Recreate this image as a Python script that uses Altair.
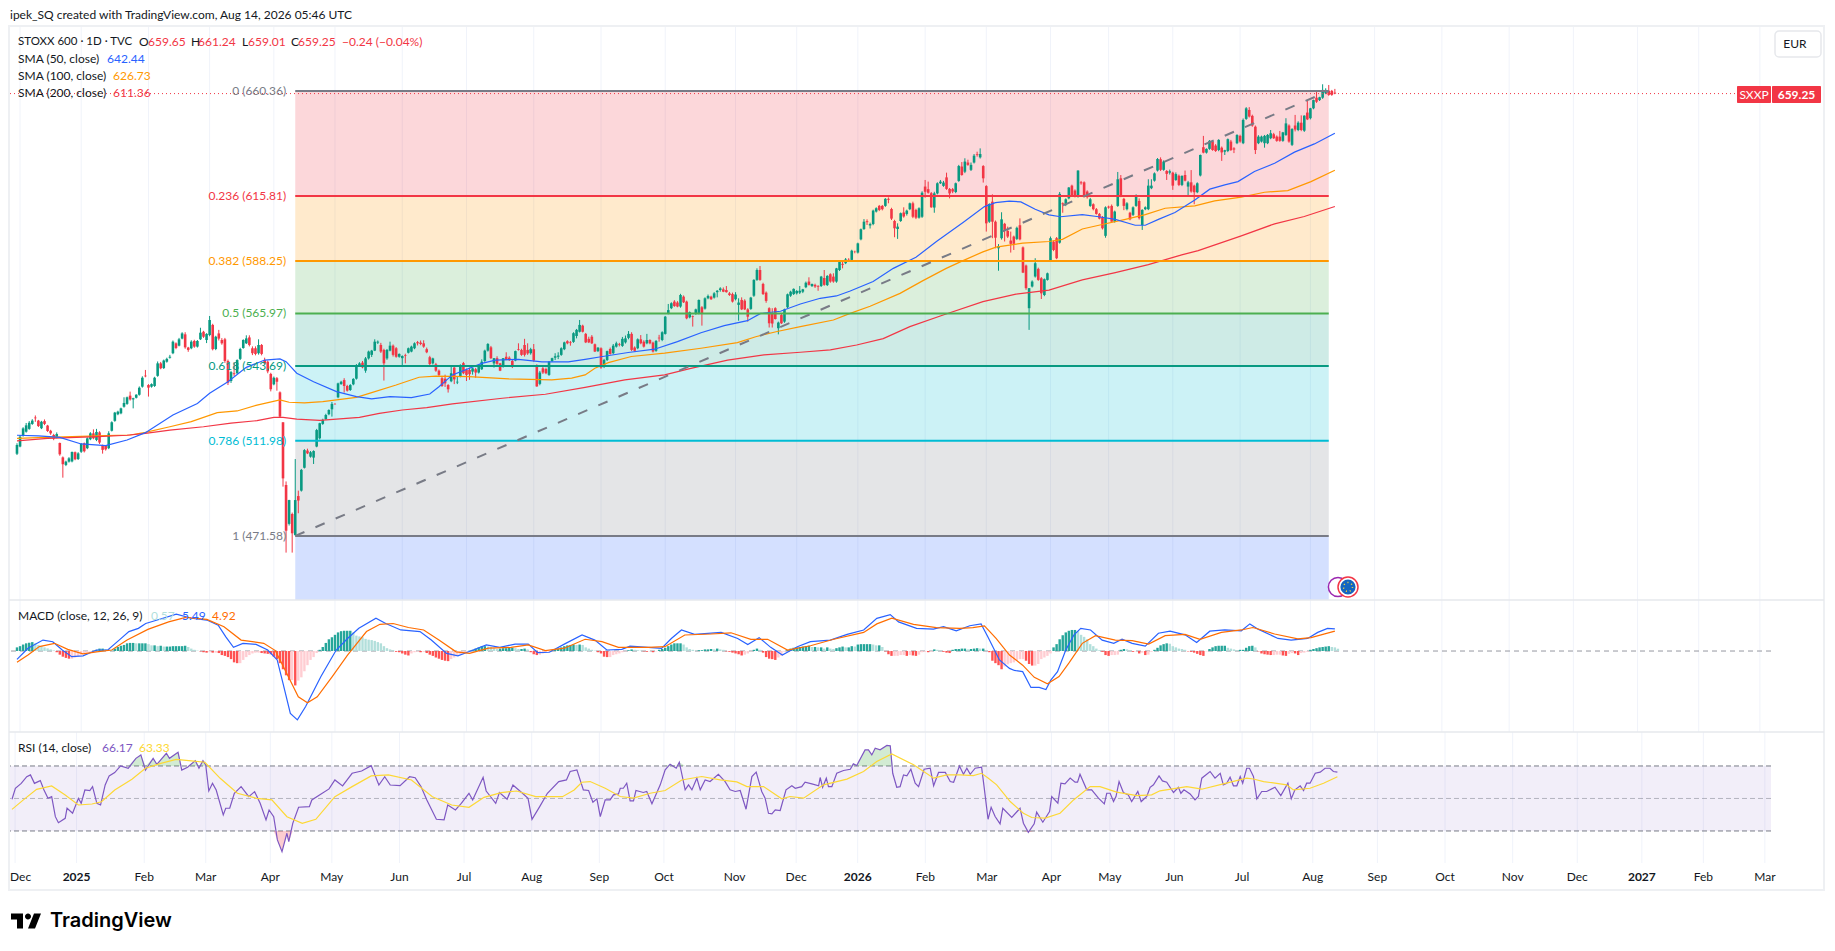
import altair as alt
import pandas as pd

FONT = "Lato"
UP, DOWN = "#089981", "#F23645"
INK = "#131722"
GRID = "#f0f3fa"

# ---- candles (open, high, low, close), one small list per month
bars_2024_12 = [(506.4,510.9,505.9,510.2),(509.5,514.4,509.2,513.7),(514,517.7,513.7,517.2),(515.8,519.5,515.4,518.5),(517,520.3,516.6,519.6),(519.1,521.1,518.7,520.5),(521.8,522.7,520,521.5),(520.5,520.8,517.8,518.2),(517.3,520.4,516.9,520),(520.3,521,518.6,519.1),(518.4,518.7,515.7,516.1),(516.2,516.6,514.5,515.1),(514.4,514.9,512.2,512.9),(513.4,515.5,513,514.8),(511,511.2,505.6,506.2),(504.9,505.3,496.3,502),(501.7,503.5,501.2,503.1),(503.1,505,502.7,504.5),(503.2,507.4,502.8,507.2),(507.1,507.4,503.7,504.1),(504.2,507.1,503.8,506.6)]
bars_2025_01 = [(507.3,511,506.8,510.6),(510.9,511.2,507,507.5),(508.8,513.4,508.4,513),(512.6,515.6,512.2,515.1),(515.1,516.8,512.6,513),(512.3,517,511.8,515.7),(515.5,516,510.6,511.2),(509.9,510.3,506.5,508.1),(509.9,510.1,507.8,508.3),(508.8,516,508.4,515.1),(516.2,520.2,515.9,519.8),(520.4,524.2,520,523.9),(523.2,524.7,522.8,524.3),(523.6,526,523.2,525.7),(526.4,530.4,526,528),(527.6,530.7,527.2,530.4),(531.1,532.8,529,529.5),(529.5,530.2,525.7,530),(530.2,531.7,529.9,531.5),(531.5,535,531.1,534.5),(534.9,539.3,534.5,538.7),(539.6,542,538.9,539.3)]
bars_2025_02 = [(535.6,536,530.7,534.5),(534.9,536.3,534.5,536),(535.2,539.1,534.8,538.7),(539.5,545.6,539.1,544.8),(544.8,545.4,542.3,542.7),(542.8,546.4,542.4,546),(545.5,547.2,545.1,546.7),(547.2,548.4,546.8,547.6),(549.1,554.5,548.7,554),(553.3,553.7,550.8,551.3),(552.3,555.6,552,555),(555.3,558,555,557.5),(557.1,558,551,551.6),(551.5,551.8,549.7,550.5),(551.2,554.6,550.8,554),(554.3,554.8,551.4,551.9),(551.9,554.7,551.5,554.3),(555,559.9,554.7,557.8),(558.2,558.6,555.6,556.1),(554.7,557.6,553.4,557.3)]
bars_2025_03 = [(556.8,564.9,556.3,563.2),(561.1,561.6,550.3,550.8),(550.9,556.5,550.4,556.1),(557.5,559,554.5,555.3),(554.7,555.5,552.7,553.3),(555,555.6,545,545.8),(545.8,546.4,535.6,536.6),(537.3,541.6,536.5,541.1),(540.6,545.2,539.4,540.2),(540.6,546.5,540.2,546.2),(546.7,551.4,546.2,550.9),(551.3,555,551,554.7),(553.3,556.7,553,555.4),(555.8,556.7,552,552.6),(551.2,552,548.3,549.1),(551.2,552,548.2,548.8),(549.1,555,548.5,552.6),(552.6,553,548.2,548.8),(546.2,547.2,544.2,544.8),(545.5,546,540.6,541.4),(540.3,540.8,532.9,533.8)]
bars_2025_04 = [(535.9,539.2,535.5,538.7),(538.5,539,533.2,537),(532.5,532.9,521.8,522.2),(519.8,519.8,492.5,496),(493.2,494.7,464.5,473.8),(476.7,486.9,476,486.8),(480.9,481.5,464.5,472.7),(472,504.2,471.6,486.8),(488.5,490.8,481.2,486.6),(490.8,500,490.4,499.6),(500.5,508.4,500.2,508),(507.8,508.6,506.3,506.6),(505.2,507.6,504.8,507.1),(504.8,507.9,502.1,507.6),(509.5,517,509.2,516.5),(513,519.6,512.5,519.4),(519.1,521.3,518.7,520.8),(521.2,523.4,520.8,522.9),(523.2,525.3,522.8,525),(525.3,528.4,522.2,527.6)]
bars_2025_05 = [(527.6,527.9,527.2,527.5),(530.4,536.6,530,536.3),(536,537.4,535.7,537),(537.7,538.5,532.4,535.2),(535.2,535.7,532.8,533.2),(533.5,536,533.1,535.6),(535.9,538.5,535.5,538.2),(538.3,544.5,537.9,544.1),(543.7,545.3,543.3,544.8),(545.1,545.8,542.7,543.1),(541.7,547.5,540.8,546.9),(546.9,550.2,546.4,549.8),(548.4,550.5,547.5,550.2),(550.2,555,550,554),(553.6,554.5,553,554),(552.6,553.5,549.2,549.8),(550.5,551,537.5,544.8),(546.9,550.9,546.3,550.5),(550.2,554,549.9,552.3),(552.3,552.8,547.7,548.4),(551.2,551.7,547.2,547.6),(547.6,549,547.2,548.8)]
bars_2025_06 = [(547,548.2,544.1,547.9),(548.2,548.9,544.8,547.9),(549.3,551.5,549,551.2),(549.8,552.3,549.5,551.9),(551.2,553.7,550.8,553.3),(553.8,554.3,552.4,553.3),(553.6,554.5,552.5,553),(553.3,554.6,551.4,551.9),(550.8,551.5,549.1,549.5),(547.4,548,544,544.5),(544.8,547.2,544.3,546.9),(544.4,545,541.2,541.7),(541.7,542.2,539.3,539.9),(538.5,539,534.8,535.2),(538.3,540,534.8,536.3),(535.6,536,532.4,533.8),(537.2,543.7,536.8,540.6),(543,543.5,536,538),(536.7,539,536,537),(539.2,544.4,538.9,544.1),(544.9,545.4,540.2,540.6)]
bars_2025_07 = [(542,542.6,537.3,539.9),(542,543,537.8,540.2),(541.3,543,540,542.7),(542.3,542.9,538.7,540.9),(540.9,544,540.5,543.7),(542.3,546.5,542,545.5),(545.8,550.6,545.4,550.2),(550.2,553.4,549.8,553),(551.6,552.2,546.6,547),(544.8,547,543,547),(547,547.8,544.2,544.6),(544.8,545,541.5,541.7),(543.4,547,543,547),(547.6,549.5,546.2,546.2),(547.2,547.8,545.8,546.2),(545.8,546.4,542.8,543.4),(546,550.2,545.7,550),(550.9,553.3,550.2,550.6),(550.5,551,548,548.4),(552.6,555.2,547.7,548.4),(550.5,553.3,548.4,549),(549.1,551.4,548.5,550.8)]
bars_2025_08 = [(550.8,553,545.5,546),(543.8,544.4,534.9,535),(536.1,541.6,535.5,540.9),(542.7,543.7,540.3,540.9),(542.4,543,540.2,540.6),(539.9,545.8,539.5,545.5),(545.8,547.2,545.4,547),(547.2,549.1,546.2,547.8),(547.6,549.5,546.6,548.1),(548.4,551.6,548,551.2),(550.8,554,550.4,553.7),(554.2,554.6,552.9,553.3),(553.7,554.3,552.3,553.4),(553.9,558,553.5,557.6),(556.4,559.4,555.4,559),(558.2,563.2,557.9,561.1),(560.8,561.2,557.9,558.2),(557.3,557.7,553.4,553.7),(555.2,556.1,553.4,553.7),(556.1,556.8,553,553.3),(552.9,553.2,549.6,549.8),(550,551.6,549.6,551.5)]
bars_2025_09 = [(551.2,551.6,542.5,543),(543.4,546.7,542.8,546.2),(546.2,550.2,545.8,550),(550.9,551.5,548.5,548.8),(549.1,553,548.7,552.3),(551.9,554,551.5,553.3),(553,553.5,552,552.7),(552.2,556,551.8,555.2),(553.7,556.6,553.2,555.4),(555.6,558.5,555,557.3),(557.3,558,550,550.5),(551.5,552,549.8,550.1),(551.2,555.4,550.8,555),(555,556.8,552.9,553.3),(554,554.6,551.5,551.9),(553.3,557.3,552.9,554.7),(554.7,555,552.9,553.3),(553.6,554,549.4,549.8),(550.1,554.7,549.7,554.3),(555.7,556.9,554,555.4),(554.7,558.4,554.2,558)]
bars_2025_10 = [(557.3,564.9,557,564.6),(566,570,565.6,567.4),(568.2,570.7,567.8,570.3),(571,571.6,568.8,569.1),(570.6,571.2,568.6,568.9),(568.9,574.3,568.4,573.8),(573.1,573.6,570.4,570.7),(571,571.4,563.5,563.9),(564.3,566.8,563.9,566.5),(564.9,565.1,560.4,564.6),(565.8,568,565.4,567.7),(566,571.9,565.6,571.7),(568.6,569.1,560.8,565.8),(568,572.8,567.6,572.4),(572.4,574,572,573.4),(573.1,573.5,571.7,572),(572.7,575,572.3,574.5),(575,575.9,572.8,575.6),(575.9,577.1,575.2,576.6),(576.2,577,575,575.2),(575.9,577.6,574.8,575),(574.5,575.1,573.4,573.8),(574.2,574.8,570.6,571)]
bars_2025_11 = [(572,575,571.5,574),(569.6,572.4,562.9,570.6),(571.7,572.8,567.4,567.7),(571.4,572,567.4,567.7),(567.7,568.2,562.5,564.6),(567.9,573,567.5,572.7),(573.5,580.5,573,580.2),(580.2,585.1,579.8,584.4),(584.4,586.1,579.8,580.2),(578.5,579,573.8,574.2),(574.8,575.3,570.5,571.3),(568.2,568.6,560,561.8),(566,568.2,560,561.7),(568.2,568.6,563.4,563.6),(559.7,562.5,557.1,562.1),(565.3,565.8,561.5,561.8),(562.5,568,562,567.7),(568.6,574.4,568.2,574.1),(573.5,575.6,573,575.2),(574.2,576.6,573.8,576.4)]
bars_2025_12 = [(574.5,575.9,574,575.5),(574.8,577.6,574.2,575.6),(575.2,576.4,574.6,576.2),(577.1,579.5,576.7,579),(579.5,581.3,577.8,578.1),(577.6,578.6,577.2,578.5),(578.1,578.6,576.8,577.4),(577.6,578,575.6,577.3),(577.6,581.9,577.2,581.6),(581,584.4,577.7,578.1),(578,582.2,577.6,581.9),(582.6,583,579,579.5),(581.6,583,579,579.5),(579.5,585.3,579,585.1),(584.4,588.5,584,587.9),(587,588,585.1,586.6),(587.3,589.5,586.9,588.9),(589,589.4,588.4,588.9),(588.7,593,588.3,592.6),(592.2,592.6,591.5,592.1)]
bars_2026_01 = [(591.8,596,591.4,595.7),(597.4,602,597,601.7),(601.8,606,601.4,604.9),(605.1,605.9,603.5,604.7),(603.3,604.5,602,603.9),(603.9,610,603.4,609.6),(609.2,611,608.8,610.6),(611.6,612,609.4,609.9),(611.6,612,609.7,610.2),(611.6,614.9,611.2,614.6),(614.6,615.2,612.7,614.2),(610.3,610.8,605.6,606.2),(605.2,605.7,598.3,602.1),(601.8,604.2,597.6,602.8),(605.2,608.8,604.8,608.5),(608.8,611,606.6,607.1),(608.2,610,607.5,609.6),(610.2,613,609.8,612.7),(612.7,613.4,606.4,607),(609.9,610.4,606,606.6),(606.6,611,606.2,610.6),(607,617.8,606.5,617.2)]
bars_2026_02 = [(619.8,622.6,615.1,617.6),(618.7,621.9,616.8,617.2),(617,617.5,610.8,611),(610.9,617.6,608.7,616.9),(616.9,621.6,616.5,621.2),(621.2,622.6,620.9,621.9),(620.1,622.2,619.7,621.5),(623.7,625.7,618.4,618.8),(618.8,619.2,614.8,616.9),(618.7,619.2,617,617.7),(617.5,621.5,617,621.2),(622.2,629,621.8,628.5),(628.3,630.2,624.4,624.7),(626.1,631.8,625.5,630.4),(630,631.2,628.6,629),(626.9,630,626.4,629),(630,633.6,629.6,632.9),(633.6,634.6,632.5,633.3),(632.2,636,631.7,633.6),(628.5,628.9,621.5,623.3)]
bars_2026_03 = [(620,620.4,600.7,604.2),(604.9,612.7,604.4,612.4),(613.4,616.5,597.9,604.9),(604.9,605.4,593.6,598.1),(593.6,595.4,584.1,594.6),(597.9,608.9,597.3,605.9),(604,604.4,596.5,601.4),(601,602.8,598,598.6),(596.9,600.7,591.8,595.5),(598.6,599,592.9,595.5),(597.6,602.8,597.1,602.3),(603.4,606.3,597,597.4),(594,594.4,583.1,583.3),(586.3,586.7,576,576.7),(568.2,576.7,559,576.7),(577.4,580,577,579.5),(581.6,589.4,581.2,587.3),(584.9,585.4,579.8,580.2),(580.9,581.4,572.1,574.5),(573.8,580.8,573.3,580.5),(580.2,583.3,579.9,583)]
bars_2026_04 = [(588.4,598.6,588,597.9),(596.4,596.9,592.4,592.9),(597.9,598.4,589,589.4),(596,617.5,595.6,616.7),(612.7,613.1,608.7,612.3),(612,614.8,611.5,614.4),(614.8,619.6,614.4,619.4),(620.2,620.6,616,616.2),(618.1,618.6,615.2,615.5),(615.5,626.7,615.1,626.6),(621.6,622.2,620.6,621.2),(621.6,622,615.2,615.5),(617.7,618.2,614.7,615.3),(611.6,615,611.2,614.4),(612.3,612.7,609.7,610.2),(610.2,610.7,607.9,608.2),(608.2,608.6,605.9,606.2),(606.8,607.3,601.6,602.1),(598.9,611.4,598.1,611)]
bars_2026_05 = [(611.3,611.7,610.4,610.9),(611.6,612.2,604.9,604.9),(604.9,609.6,604.5,609.2),(611.6,626,611.2,622.9),(623.3,624.7,615.3,615.8),(614.6,615,609.8,611.6),(610.2,613.2,609.7,612.7),(608.7,609.1,605.5,605.9),(607.8,611.4,607.3,611),(611.6,616.5,611.2,615.8),(613.7,614.8,605.8,606.4),(603.5,610.2,601.4,609.9),(610.2,611.4,609.8,611),(610.2,622.9,609.8,620.2),(619.1,622.9,618.7,620.2),(622.3,625.8,621.9,625.4),(626.6,631.9,626.2,631.5),(631.4,632.2,626.4,626.9),(626.9,630.9,626.5,630.4),(626.4,626.8,622.6,625.2),(625.7,627,624.9,626.3)]
bars_2026_06 = [(625.7,626.1,618.4,620.2),(622.6,625.8,622.2,625.1),(624.4,624.9,620,620.5),(620.5,624.6,620,624.3),(624.7,626.6,622,622.3),(619.8,622.2,616.2,621.6),(621.6,626.8,617.2,617.7),(620.2,620.6,612.3,617.4),(617.4,621.6,617,621.2),(624.5,633.4,624.1,633.2),(636.5,641.3,633.9,634.2),(634.2,636,633.8,635.8),(635.8,639.5,635.4,639.2),(638.9,639.5,635,635.3),(637.2,637.8,634.5,634.9),(635.3,639.9,634.8,639.6),(636.3,636.8,630.7,634.3),(634.6,635.4,633.2,635.2),(634.9,640.2,634.4,639.9),(638.9,639.6,634.9,635.3),(636,636.5,634,635.5),(638.2,642,637.8,641.7)]
bars_2026_07 = [(641.3,641.8,638.4,638.9),(638.2,648.7,637.8,648.1),(648.5,653.5,648.1,653),(652.3,653.5,649.1,649.5),(649.8,650.3,645.2,645.7),(645.2,645.7,633.6,635.3),(638.2,641.6,637.8,641),(638.9,641.4,638.5,641),(638.2,641.7,636.3,641.3),(638.2,642.1,637.8,641.7),(640.3,643.8,639.9,642.4),(642,642.6,640,640.3),(641,641.5,638.8,639.2),(641,643.4,638.8,639.2),(639.2,643,638.8,642.8),(641.7,648.8,641.3,646.6),(645.7,646.2,638.4,638.9),(637.5,644.6,637,644.2),(645.7,650.2,643.2,644),(643.8,647.5,643.3,646.9),(646.9,650,643.3,643.8),(643.5,650,643,649.9),(651.2,656.3,648,648.3)]
bars_2026_08 = [(648.8,653.2,648.3,653),(653,656.7,652.6,656.5),(657.5,660.1,655.3,655.8),(656.5,657.9,656.1,657.7),(657.5,663.2,657,660.8),(659.4,661.5,659,660.8),(660.5,662.9,658.3,658.7),(660.4,660.8,658.3,658.7),(659.65,661.24,659.01,659.25)]

# ---- moving averages: (bar number, value)
sma50 = [(0,514.3),(7,514),(14,513.4),(21,510.6),(29,509.9),(36,512.3),(42,515.4),(51,522.9),(59,527.8),(63,532.1),(69,537),(75,543.1),(81,546.2),(86,546.7),(88,545.5),(91.5,540.6),(97,537),(104.5,532.8),(111,530.7),(116,529.7),(122,530.7),(129,530.3),(135,531.8),(138,534.9),(142.4,539.9),(152,544.8),(156.5,546.2),(164,546.5),(171.7,545.4),(180.3,545.4),(185.8,546.5),(191,547.6),(199.9,549.4),(208.5,550.8),(216,554),(223.7,557.8),(231.3,560.8),(238.9,562.9),(243.2,566),(249.7,566.9),(256.2,570),(262.7,572.4),(268,573.4),(272.5,575.5),(280,579.5),(286.6,585.1),(294,589.8),(300.7,596.5),(309.4,604.6),(316.4,611.3),(320,613),(324.5,613.6),(328.3,613.3),(333,610.2),(337.5,607.8),(341.3,607),(348.4,607.9),(353.8,607),(359.2,605.9),(365.7,603.4),(369,603.4),(373.3,605.9),(378.7,608.8),(385.2,614.1),(390.1,618.7),(395,620.5),(399.3,621.9),(404.7,626.2),(411.3,629.7),(417.8,634.4),(424.3,637.9),(431,642.44)]
sma100 = [(0,513),(7,513.3),(18,513.7),(29,514.1),(37,514.4),(42,515.5),(50,517.9),(57,520.1),(65.5,523.9),(72,524.6),(78.5,527.1),(86,529.3),(89,528.3),(94,528),(100,528.6),(111,530.4),(116,532.4),(124,535.6),(131.5,538.9),(137,539.4),(147.8,539.2),(160.8,538.2),(174.9,537.8),(181.4,538.5),(185.8,539.9),(189,542.7),(193.4,545.1),(200.9,547.7),(211.8,549.1),(223.7,551.2),(235.6,553.6),(241.6,556.1),(248.6,558.3),(256.2,560.4),(267,563.2),(272.5,566),(279,569),(288.8,574.5),(296.3,579.9),(303.9,585.1),(309.4,588.4),(315.9,592.1),(320.2,594.1),(328.9,595.8),(337.5,596.5),(341.9,597.4),(348.4,601.8),(354.9,603.7),(362.5,605.9),(369,607.9),(375.5,610.6),(385.2,611.6),(391.7,613.7),(400.4,615.3),(408,617.4),(415.6,618.1),(423.2,621.9),(431,626.73)]
sma200 = [(0,511.9),(10,513),(26.5,513.7),(36,514.3),(42,515.1),(50,516.5),(61,517.9),(70,519.4),(78.5,520.5),(84,521.9),(87,521.9),(91.5,521.1),(99,520.6),(104.5,521.1),(112,521.9),(118.5,523.6),(126,525),(134,526),(142.4,527.6),(158.7,530),(172.8,531.7),(185.8,534.6),(198.8,537.8),(211.8,539.9),(220.4,542.7),(232.4,546.2),(244.3,548.4),(256.2,549.5),(266,550.5),(274.6,552.6),(283.3,555.3),(292,560.4),(302.9,565.3),(315.9,571),(326.7,574.2),(337.5,575.9),(348.4,580.2),(359.2,583.3),(370,586.7),(380.9,590.8),(386.3,592.6),(400.4,598.9),(411.3,604),(421,607.1),(431,611.36)]

# ---- MACD
macd_line = [(0,-2.06),(3.6,.66),(8.5,2.71),(11.7,2.3),(14.8,.25),(17.9,-1.4),(21.6,-1.2),(26,.25),(29.7,.25),(33.4,2.7),(36.6,4.8),(39.7,5.6),(42.1,6.8),(45.9,7.65),(52.1,9.1),(57.1,8.1),(62.1,7.65),(65.8,6.4),(68.3,3.5),(70.8,.9),(73.9,1.9),(78.2,1.65),(82,.25),(85.1,-2.2),(87,-8),(89.4,-15.4),(91.7,-17),(94.4,-13.7),(99.4,-6.3),(104.4,.25),(108.1,3.1),(111.8,5.6),(117.4,8.1),(120.6,6.8),(125.5,5.2),(131.8,4.8),(135.5,2.7),(140.5,-.6),(144.2,-1.2),(149.2,.25),(153.5,1.5),(157.9,.9),(162.9,1.7),(167.2,1.7),(170.3,-.4),(174.1,-.3),(179,1.7),(184.8,3.95),(189,2.7),(192.9,.25),(197.8,.4),(200.5,1.2),(206.4,.9),(210.8,.65),(214,3.1),(217.3,5.2),(221.6,4.1),(230.3,4.6),(235.7,3.1),(239,1.6),(242.7,3.3),(246.5,.9),(250.3,-1),(255.2,1.07),(259.5,2.3),(266,2.7),(271.5,4.1),(276.9,5.2),(281.2,8.06),(285.6,9),(288.3,7.2),(294.2,5.6),(299.7,5.4),(303,6),(307.2,5),(311.6,6.25),(315.3,6.7),(317.5,3.5),(321.3,-2.2),(324.6,-4.3),(326.2,-4.8),(328.9,-5.1),(331.6,-9),(334.3,-9),(336.5,-9.5),(338.1,-7.2),(340.3,-5.1),(343,.25),(345.7,4),(347.9,5.6),(351.1,5.2),(354.9,2.7),(358.7,1.9),(361.4,2.9),(364.7,1.9),(369,1.2),(373.3,4.4),(377.1,4.9),(382,4),(385.8,2.1),(390.1,4.9),(395,5.2),(400.4,5),(403.2,6.7),(405.9,5.4),(412.4,3.1),(416.7,2.7),(422.1,3.1),(425.4,4.6),(428.6,5.6),(431,5.49)]
macd_signal = [(0,-2.8),(3.6,-1),(7.3,1.1),(12.3,1.9),(16.6,.4),(21.6,-.7),(26,-.2),(31,.25),(36,2.7),(42.8,5.35),(49.6,7.2),(55.2,8.3),(62.1,7.8),(67.7,6),(73.3,2.7),(80.7,1.9),(84.5,.1),(88.2,-5.5),(92,-11.3),(95,-12.8),(98.2,-11.3),(103.1,-6.3),(108.1,-1),(114.3,4.8),(118.7,6.6),(123,6.8),(128,5.8),(133,5.2),(138,2.7),(143.6,-.2),(148,-.6),(154.2,.7),(161.6,.9),(167.2,1.5),(172.8,.1),(179,.7),(185.8,2.9),(191.3,2.3),(196.7,.9),(206.4,.9),(211.9,1.07),(218.4,3.95),(227,4.2),(233.5,4.5),(240,2.9),(245.5,2.9),(252,.25),(259.5,1.3),(267.1,2.9),(276.9,4.6),(281.2,6.7),(286.1,8.1),(293.2,6.6),(300.7,5.8),(308.3,5.6),(312.6,5.8),(316.4,6.2),(320.2,3.1),(324.6,-1),(328.9,-3.5),(332.7,-6.5),(337,-8.1),(340.8,-6.3),(344,-3),(348.4,1.9),(352.7,3.8),(359.2,2.7),(364.7,2.55),(370.1,1.7),(375.5,3.8),(382,4.1),(386.9,2.9),(393.9,4.6),(400.4,5.2),(404.2,5.8),(411.3,4.2),(418.9,3),(423.2,3.3),(431,4.92)]
hist_2024_25 = [.9,1.2,1.6,1.9,2.05,2.2,1.9,1.5,1.2,.9,.65,.4,.15,-.3,-.9,-1.4,-1.7,-1.9,-1.9,-1.6,-1.3,-1,-.6,-.4,-.2,.05,.3,.6,.6,.5,.4,.3,.6,1,1.3,1.5,1.9,2,2,1.9,1.9,1.9,1.9,1.7,1.4,1.4,1.2,1.3,1.1,1.1,1.1,1.2,1.2,1.2,1.2,1.3,1,.6,.3,.1,-.1,-.3,-.4,-.3,-.4,-.4,-.5,-1,-1.2,-1.5,-2,-2.8,-3,-3,-2.2,-1.5,-1,-.6,-.4,-.4,-.5,-.6,-.7,-.8,-1.4,-2,-3,-4.5,-6,-7.2,-7.2,-8.5,-7.3,-6.5,-5,-3.5,-2.2,-1.5,-.5,.3,1,2,2.9,3.4,4,4.6,4.9,5,5,5,4.6,3.8,3.6,3.4,3,2.8,2.7,2.5,2.2,1.9,1.2,.7,.4,.2,-.2,-.3,-.6,-.9,-1.1,-.6,-.3,-.2,-.3,-.2,-.5,-.9,-1.2,-1.6,-1.9,-2.2,-2.4,-2.5,-2,-1.6,-1.1]
hist_2025_b = [-.8,-.5,-.2,.1,.3,.6,.9,1.2,1.2,1.1,1,.7,.5,.6,.7,.7,.8,.8,.7,.5,.5,.6,.4,-.3,-.8,-1,-.9,-.6,-.3,-.2,.1,.4,.6,.9,1.2,1.4,1.5,1.6,1.5,1.6,1.5,.9,.6,.3,.1,-.3,-.6,-1.4,-1.5,-1.5,-1,-.8,-.6,-.3,-.1,.2,.4,.3,.2,.1,-.1,-.2,-.1,-.3,-.1,.3,.5,.8,1.2,1.6,1.9,1.9,1.9,1.6,.9,.5,.3,.1,.2,.2,.4,.4,.5,.4,.6,.4,.3,-.1,-.2,-.4,-.6,-.8,-1.1,-.9,-.6,-.1,.3,.6,.3,-.4,-1.5,-1.9,-2,-2.2,-1.6,-1.2,-.2,.3,.6,.8,.9,1,1.1,1.2,1.3,1,1,.9,.9,.6,.9,.6,.5,.7,.9,1.1,.9,.9,1.2,1.1]
hist_2026 = [1.6,1.7,1.7,1.7,1.7,1.6,1.4,1.4,1,-.1,-.8,-1.2,-1.2,-1.2,-1,-1,-1.2,-1,-1.1,-1.2,-.9,-.3,-.2,-.3,-.2,.4,.3,.1,-.2,-.4,-.5,.3,.5,.5,.6,.6,.4,.5,.6,.7,.6,.6,.1,-.3,-2.4,-3,-3.5,-4.5,-3.8,-3.3,-3,-2.8,-2.4,-2,-2,-2.4,-3.2,-3.6,-3.6,-3.2,-2,-1.6,-1.2,-.6,.9,1.7,2.9,3.9,4.6,5,5.2,5.2,4.9,4,3.5,2.9,1.7,1.2,.6,.2,-.2,-1,-1.2,-1,-1,-.9,.3,.5,.4,.2,-.2,-.1,-.6,-.4,-1,-.9,-.2,.3,.8,1.4,1.7,1.9,1.8,1.2,.9,.6,.5,.3,-.1,-.2,-.4,-.7,-1,-1.2,-.1,.5,.9,1.2,1.3,1.3,1.3,.8,.6,.4,.2,.3,.3,.8,1.2,1.3,.9,-.1,-.6,-.8,-.9,-1,-1,-.9,-.9,-1.1,-1.2,-.7,-.5,-.6,-1,-.5,-.4,-.2,.3,.5,.7,.9,1,1.1,1.2,1,.9,.57]

# ---- RSI
rsi_a = [(0,49.5),(1.1,56.3),(3,59.3),(4.8,63.4),(6,64.5),(7.3,59.3),(9.2,61),(10.4,55.2),(11.7,50.1),(12.9,51.1),(14.1,38.8),(15.1,35.1),(17.3,37.8),(17.9,44),(19.7,40.9),(21.6,50.1),(22.5,47),(23.7,55.2),(25.3,54.8),(26.2,57.3),(27.6,47),(28.8,46),(30.3,58.3),(31.6,63.9),(33.4,65.9),(35.3,70),(37.8,68.6),(40.3,74.7),(41.9,76.8),(43.4,67.5),(45.9,74.7),(47.1,71),(50.2,77.8),(51.2,74.7),(54,78.4),(55.2,67.5),(57.1,69.2),(59.6,73.3),(60.8,68.6),(62.1,73.3),(63,70.6),(64,54.6),(65.2,59.3),(66.4,55.2),(68.7,39.9),(69.5,44),(70.8,44),(72.3,53.2),(74.5,57.3),(77,51.1),(78.9,54.2),(80.7,47),(82.6,36.8),(83.6,42.9),(85.1,38.8),(86.3,24.5),(87.8,17.3),(89.4,28.6),(90,23.4),(91.3,34.7),(93.2,44.6),(96.7,45),(97.5,49.1),(100,52.2),(103.1,55.9),(105,61.4),(107.5,57.7),(110.6,65.5),(113.7,66.9),(116.8,70.2),(119.3,58.3),(121.2,63.4),(123,58.3),(126.2,57.9),(129.3,63.4),(131.1,62.8),(133,57.3),(134.9,49.1),(138,37.2),(140.5,36.8),(141.7,46),(144.2,42.9),(146.1,47),(148.6,53.2),(149.8,49.1),(153.2,63),(154.2,54.6),(157.3,47),(158.5,53.6),(161,49.5),(162.9,58.3),(166,53.2),(167.8,50.1),(169.1,37.2),(171.6,45),(174.1,53.2),(177.8,60.4),(180.3,61.4)]
rsi_b = [(181.5,66.6),(183.7,67.6),(185.8,55.3),(187.5,54.9),(188.9,47.7),(190.2,49.8),(191.3,38.9),(192.9,49.1),(194.5,49.1),(195.6,52.2),(197.2,52.8),(197.8,56.3),(198.8,56.3),(199.9,59.4),(201,48.5),(202.1,48.5),(202.9,54.9),(205.3,53.7),(206.4,54.3),(208.1,46.7),(210.8,58.4),(212.4,67.6),(214,71.1),(216,68.6),(217,72.3),(218.9,55.3),(220,58.4),(221.1,55.3),(222.7,62.5),(223.8,55.3),(225.4,61.4),(227,60.4),(229.7,64.9),(231.9,60.4),(233.5,55.3),(235.2,54.3),(236.8,54.9),(238.7,43.4),(240.6,63.5),(242,66.2),(243.8,54.3),(244.9,50.2),(246,40.9),(247.1,40.5),(248.2,43),(249.8,42.6),(251.7,55.3),(253.6,57.8),(254.7,56.3),(256.8,57.3),(257.9,60),(260.1,59),(262.3,57.8),(262.8,62.9),(263.6,56.9),(264.8,62.5),(265.5,57.3),(266.6,57.3),(268.2,65.5),(270.4,67.2),(272.6,68),(273.6,71.3),(274.7,70.3),(277.4,79.9),(278.5,79.9),(279.6,76.8),(280.7,80.9),(282.3,79.9),(284.5,82.6),(285.6,82.4),(286.4,65.5),(287.7,56.9),(288.8,57.3),(289.9,64.5),(291,63.9),(292.3,68),(293.7,59.4),(294.8,57.3),(296.6,68),(298.6,68.6),(299.7,57.8),(301.3,66),(303.5,66),(305.1,60.4),(306.2,60),(308.1,70),(309.4,64.9),(310.5,68.6),(311.6,64.9)]
rsi_c = [(313.2,68.6),(315.3,69.2),(316.1,57.3),(317.4,37.2),(318.4,44.6),(319.7,38.9),(321.3,34.4),(322.2,44),(325.1,38.3),(327.8,44),(328.9,34.8),(330.5,29.2),(332.4,34.4),(333.2,41.6),(335.2,35.4),(337.4,42),(338.1,51.2),(340.1,47.1),(341.1,59.4),(342.4,59),(344.1,62.5),(345.7,60),(346.5,60),(347.3,64.9),(349.5,55.3),(351.1,55.3),(353.3,50.2),(355.2,46.7),(356,53.2),(357.1,53.2),(358.2,48.1),(359,51.2),(360,60.4),(361.4,53.7),(363,52.2),(364.1,48.1),(366.1,54.3),(367.2,48.1),(369,51.2),(370.1,56.9),(371.2,58.4),(373,63.9),(374.1,60.8),(375.5,60),(377.7,53.7),(379.3,56.9),(380.1,53.2),(381.1,55.3),(383.1,52.8),(384.7,49.1),(385.8,51.2),(386.9,62.5),(389.6,66.6),(391.2,62.5),(392.9,65.5),(393.9,58.4),(395,59.4),(396.1,63.1),(397.2,57.8),(398.3,57.8),(399.4,63.5),(400.2,59.4),(401.5,68.6),(402.4,68.6),(403.7,63.5),(404.8,49.8),(406.4,54.3),(408,54.3),(410.7,56.9),(412.6,51.8),(414.9,59.4),(416,49.8),(417.2,55.3),(418.9,57.8),(420,54.9),(421,59.4),(422.1,59.4),(423.8,65.5),(425.4,66.2),(427,68.6),(428.6,68.6),(429.7,66.6),(431,66.17)]
rsi_ma = [(0,43.3),(3.6,49),(8,55.6),(12.9,57.7),(17.3,52.2),(21.6,46),(26,46.6),(29.1,48),(33.4,55.2),(39,61.8),(43.4,68.6),(48.4,71.6),(53.4,74.1),(58.3,73.1),(62.7,72.3),(67.7,62.4),(73.3,53.2),(79.5,50.1),(84.5,49.1),(89.4,38.8),(94.4,34.7),(98.8,37.2),(105,51.1),(110.6,57.3),(116.8,63.9),(122.4,64.5),(129.9,61.4),(136.7,51.1),(143,46),(148.6,44.6),(153.5,50.7),(159.1,53.6),(164.1,54.6),(170.3,51.1),(179,51.1),(182.8,55.2),(185.3,60),(188,60.4),(192.9,56.3),(197.8,51.2),(202.1,50.2),(207.5,53.2),(212.4,54.9),(217.8,61.4),(224.3,63.5),(230.3,61.4),(235.7,60.2),(239,57.3),(244.4,57.3),(250.3,49.8),(253,51.2),(257.4,50.2),(263.9,58.4),(271.5,61.9),(276.9,66.6),(281.2,72.7),(286.1,77.4),(293.2,70.7),(299.7,62.5),(304,64.5),(308.3,64.5),(312.6,64.1),(315.3,65.5),(317.5,62.5),(320.2,58.4),(324.6,48.1),(328.9,40.9),(331.6,38.3),(336,37.9),(340.8,40.9),(345.2,49.1),(350.6,57.3),(353.8,57.3),(359.2,53.9),(365.8,51.8),(370.6,52.2),(373.3,54.7),(382,57.3),(386.9,55.7),(393.9,59),(401.5,62.5),(403.7,62),(407,60.4),(414.5,58.4),(416.7,55.3),(422.1,56.3),(426.5,59.4),(431,63.33)]

# ---- time axis
month_bars = [1,21,43,63,84,104,126,147,169,191,212,235,255,275,297,317,338,357,378,400,423,444,466,488,509,530,550,570]
month_names = ["Dec","2025","Feb","Mar","Apr","May","Jun","Jul","Aug","Sep","Oct","Nov","Dec","2026","Feb","Mar","Apr","May","Jun","Jul","Aug","Sep","Oct","Nov","Dec","2027","Feb","Mar"]

# ---- Fibonacci retracement
fib_levels = [0, 0.236, 0.382, 0.5, 0.618, 0.786, 1]
fib_prices = [660.36, 615.81, 588.25, 565.97, 543.69, 511.98, 471.58]
fib_colors = ["#787B86", "#F23645", "#FF9800", "#4CAF50", "#089981", "#00BCD4", "#787B86"]
fib_texts = ["0", "0.236", "0.382", "0.5", "0.618", "0.786", "1"]
band_colors = ["#F23645", "#FF9800", "#4CAF50", "#089981", "#00BCD4", "#787B86", "#2962FF"]
fib_start, fib_end = 91, 429
price_floor = 444.4
last_close = 659.25

# ---- assemble tables from the lists above
all_bars = (bars_2024_12 + bars_2025_01 + bars_2025_02 + bars_2025_03 + bars_2025_04 + bars_2025_05
            + bars_2025_06 + bars_2025_07 + bars_2025_08 + bars_2025_09 + bars_2025_10 + bars_2025_11
            + bars_2025_12 + bars_2026_01 + bars_2026_02 + bars_2026_03 + bars_2026_04 + bars_2026_05
            + bars_2026_06 + bars_2026_07 + bars_2026_08)
candles = pd.DataFrame(all_bars, columns=["o", "h", "l", "c"])
candles["i"] = range(len(candles))
candles["col"] = [UP if c >= o else DOWN for o, c in zip(candles.o, candles.c)]

def pairs(rows):
    return pd.DataFrame(rows, columns=["i", "v"])

hist_vals = hist_2024_25 + hist_2025_b + hist_2026
hist_rows = []
prev = 0
for n, h in enumerate(hist_vals):
    if h >= 0:
        col = "#26a69a" if h >= prev else "#b2dfdb"
    else:
        col = "#ff5252" if h < prev else "#ffcdd2"
    hist_rows.append({"i": n, "h": h, "z": 0, "col": col})
    prev = h
hist = pd.DataFrame(hist_rows)

rsi_all = rsi_a + rsi_b + rsi_c
rsi_df = pairs(rsi_all)
rsi_df["over"] = rsi_df.v.clip(lower=70)
rsi_df["under"] = rsi_df.v.clip(upper=30)
rsi_df["top"] = 70
rsi_df["bot"] = 30

months = pd.DataFrame({"i": month_bars, "name": month_names})
months["bold"] = months.name.str.isdigit()
first_month, later_months = months.iloc[:1], months.iloc[1:]

fib = pd.DataFrame({"lvl": fib_levels, "p": fib_prices, "col": fib_colors, "t": fib_texts})
fib["label"] = [f"{t} ({p:.2f})" for t, p in zip(fib_texts, fib_prices)]
fib["x1"] = fib_start
fib["x2"] = fib_end
bands = pd.DataFrame({
    "p1": fib_prices,
    "p2": fib_prices[1:] + [price_floor],
    "col": band_colors,
    "x1": fib_start,
    "x2": fib_end,
})
trend = pd.DataFrame({"i": [fib_start, fib_end], "v": [fib_prices[-1], fib_prices[0]]})
one = pd.DataFrame({"a": [0]})

# ---- panel geometry
W = 1761
FRAME_R = 1814
H_PRICE, H_MACD, H_RSI = 573, 132, 131
XS = alt.Scale(domain=[-0.65, 572.0], nice=False, zero=False)
YP = alt.Scale(domain=[price_floor, 687.5], nice=False, zero=False)
YM = alt.Scale(domain=[-20, 12.6], nice=False, zero=False)
YR = alt.Scale(domain=[10.3, 90.9], nice=False, zero=False)

def xq(f="i"):
    return alt.X(f"{f}:Q", scale=XS, axis=None, title=None)

def right_axis(vals, expr=None):
    kw = dict(values=vals, orient="right", domain=False, ticks=False, grid=True, gridColor=GRID,
              gridWidth=1, labelColor=INK, labelFont=FONT, labelFontSize=12, labelPadding=9,
              format=".2f", title=None)
    if expr:
        kw["labelExpr"] = expr
    return alt.Axis(**kw)

def label(text, x, y, color=INK, size=12, align="left", weight="normal", font=FONT):
    return alt.Chart(one).mark_text(text=text, align=align, baseline="middle", color=color,
                                    fontSize=size, font=font, fontWeight=weight).encode(
        x=alt.value(x), y=alt.value(y))

def vgrid():
    return alt.Chart(months).mark_rule(color=GRID, strokeWidth=1).encode(x=xq())

def line(df, scale, color, width=1.2):
    return alt.Chart(df).mark_line(color=color, strokeWidth=width).encode(
        x=xq(), y=alt.Y("v:Q", scale=scale, axis=None, title=None))

# ---- price pane
ypf = lambda f: alt.Y(f"{f}:Q", scale=YP, axis=None, title=None)
price_axis_layer = alt.Chart(pd.DataFrame({"v": [460]})).mark_rule(opacity=0).encode(
    y=alt.Y("v:Q", scale=YP, title=None,
            axis=right_axis(list(range(460, 700, 20)),
                            "datum.value > 640 ? '' : format(datum.value, '.2f')")))
band_layer = alt.Chart(bands).mark_rect(opacity=0.2).encode(
    x=xq("x1"), x2="x2:Q", y=ypf("p1"), y2="p2:Q", color=alt.Color("col:N", scale=None))
wicks = alt.Chart(candles).mark_rule(strokeWidth=1).encode(
    x=xq(), y=ypf("l"), y2="h:Q", color=alt.Color("col:N", scale=None))
bodies = alt.Chart(candles).mark_bar(size=2.6).encode(
    x=xq(), y=ypf("o"), y2="c:Q", color=alt.Color("col:N", scale=None))
fib_lines = alt.Chart(fib).mark_rule(strokeWidth=2).encode(
    x=xq("x1"), x2="x2:Q", y=ypf("p"), color=alt.Color("col:N", scale=None))
fib_labels = alt.Chart(fib).mark_text(align="right", baseline="middle", dx=-9, fontSize=12, font=FONT).encode(
    x=xq("x1"), y=ypf("p"), text="label:N", color=alt.Color("col:N", scale=None))
trend_line = alt.Chart(trend).mark_line(color="#787B86", strokeWidth=2, strokeDash=[10, 12]).encode(
    x=xq(), y=ypf("v"))
close_line = alt.Chart(pd.DataFrame({"v": [last_close]})).mark_rule(
    color="#F23645", strokeWidth=1, strokeDash=[1, 3]).encode(
    x=alt.value(0), x2=alt.value(1727), y=ypf("v"))

def tag(x1, x2, y1, y2):
    return alt.Chart(one).mark_rect(color="#F23645", cornerRadius=1).encode(
        x=alt.value(x1), x2=alt.value(x2), y=alt.value(y1), y2=alt.value(y2))

frame = alt.Chart(one).mark_rect(fillOpacity=0, stroke="#eef0f3", strokeWidth=2).encode(
    x=alt.value(-1), x2=alt.value(FRAME_R), y=alt.value(-1), y2=alt.value(863))
origin = alt.Chart(one).mark_rect(color="white").encode(
    x=alt.value(-2), x2=alt.value(0), y=alt.value(-19), y2=alt.value(-18))
eur_box = alt.Chart(one).mark_rect(fill="white", stroke="#e6e8ec", strokeWidth=1.5, cornerRadius=4).encode(
    x=alt.value(1765), x2=alt.value(1811), y=alt.value(4), y2=alt.value(30))

def dot(x, y, size, **kw):
    return alt.Chart(one).mark_point(size=size, opacity=1, **kw).encode(x=alt.value(x), y=alt.value(y))

logo_path = "M-3 -7.5H-15v6h6v9h6V-7.5Zm12 15h-7l6-15h7l-6 15Zm-7-9a3 3 0 1 0 0-6 3 3 0 0 0 0 6Z"

price = alt.layer(
    origin, price_axis_layer, vgrid(), band_layer, wicks, bodies,
    line(pairs(sma100), YP, "#FF9800"), line(pairs(sma200), YP, "#F23645"), line(pairs(sma50), YP, "#2962FF"),
    fib_lines, trend_line, close_line, fib_labels,
    label("ipek_SQ created with TradingView.com, Aug 14, 2026 05:46 UTC", 0, -12),
    label("STOXX 600 · 1D · TVC", 8, 15, size=11.5),
    label("O", 129, 15), label("659.65", 138, 15, DOWN),
    label("H", 181, 15), label("661.24", 188, 15, DOWN),
    label("L", 232, 15), label("659.01", 238, 15, DOWN),
    label("C", 281, 15), label("659.25", 288, 15, DOWN),
    label("−0.24 (−0.04%)", 332, 15, DOWN),
    label("SMA (50, close)", 8, 32), label("642.44", 97, 32, "#2962FF"),
    label("SMA (100, close)", 8, 49), label("626.73", 103, 49, "#FF9800"),
    label("SMA (200, close)", 8, 66), label("611.36", 103, 66, "#F23645"),
    tag(1727, 1761, 59, 76), tag(1762, 1811, 59, 76),
    label("SXXP", 1744, 67.5, "white", align="center"),
    label("659.25", 1786.5, 67.5, "white", align="center", weight="bold"),
    eur_box, label("EUR", 1785, 17, align="center"),
    dot(1328, 560, 370, shape="circle", filled=True, color="white", stroke="#9C27B0", strokeWidth=1.5),
    dot(1338, 560, 400, shape="circle", filled=True, color="white", stroke="#F23645", strokeWidth=1.5),
    dot(1338, 560, 230, shape="circle", filled=True, color="#1565C0"),
    dot(1338, 560, 80, shape="circle", filled=False, color="#FDD835", strokeWidth=1.5, strokeDash=[1, 3]),
    dot(16, 894, 4, shape=logo_path, filled=True, color="#000000"),
    label("TradingView", 40, 894, "#000000", size=20, weight=600, font="Inter"),
    frame,
).properties(width=W, height=H_PRICE)

# ---- MACD pane
macd_axis_layer = alt.Chart(pd.DataFrame({"v": [0]})).mark_rule(
    color="#9598a1", strokeWidth=1, strokeDash=[5, 4]).encode(
    y=alt.Y("v:Q", scale=YM, title=None, axis=right_axis([-10, 0, 10])))
sep_macd = alt.Chart(one).mark_rule(color="#e6e8ec", strokeWidth=1.5).encode(
    x=alt.value(-1), x2=alt.value(FRAME_R), y=alt.value(0))
hist_bars = alt.Chart(hist).mark_bar(size=2.4).encode(
    x=xq(), y=alt.Y("h:Q", scale=YM, axis=None, title=None), y2="z:Q", color=alt.Color("col:N", scale=None))
macd = alt.layer(
    vgrid(), macd_axis_layer, hist_bars,
    line(pairs(macd_line), YM, "#2962FF"), line(pairs(macd_signal), YM, "#FF6D00"),
    sep_macd,
    label("MACD (close, 12, 26, 9)", 8, 16),
    label("0.57", 141, 16, "#b2dfdb"), label("5.49", 172, 16, "#2962FF"), label("4.92", 202, 16, "#FF6D00"),
).properties(width=W, height=H_MACD)

# ---- RSI pane
yr = lambda f: alt.Y(f"{f}:Q", scale=YR, axis=None, title=None)
rsi_axis_layer = alt.Chart(pd.DataFrame({"v": [70, 30]})).mark_rule(
    color="#787B86", strokeWidth=1, strokeDash=[5, 3]).encode(
    y=alt.Y("v:Q", scale=YR, title=None, axis=right_axis([20, 40, 60, 80])))
mid_line = alt.Chart(pd.DataFrame({"v": [50]})).mark_rule(
    color="#787B86", opacity=0.5, strokeWidth=1, strokeDash=[5, 3]).encode(y=yr("v"))
rsi_band = alt.Chart(pd.DataFrame({"a": [70], "b": [30]})).mark_rect(color="#7E57C2", opacity=0.1).encode(
    x=alt.value(0), x2=alt.value(W), y=yr("a"), y2="b:Q")
over_area = alt.Chart(rsi_df).mark_area(color="#4CAF50", opacity=0.25).encode(x=xq(), y=yr("over"), y2="top:Q")
under_area = alt.Chart(rsi_df).mark_area(color="#F23645", opacity=0.25).encode(x=xq(), y=yr("under"), y2="bot:Q")
sep_rsi = alt.Chart(one).mark_rule(color="#e6e8ec", strokeWidth=1.5).encode(
    x=alt.value(-1), x2=alt.value(FRAME_R), y=alt.value(0))
month_text = alt.Chart(later_months[~later_months.bold]).mark_text(
    baseline="middle", fontSize=12, font=FONT, color=INK).encode(
    x=xq(), y=alt.value(145), text="name:N")
year_text = alt.Chart(later_months[later_months.bold]).mark_text(
    baseline="middle", fontSize=12, font=FONT, color=INK, fontWeight="bold").encode(
    x=xq(), y=alt.value(145), text="name:N")
first_text = alt.Chart(first_month).mark_text(
    baseline="middle", align="left", fontSize=12, font=FONT, color=INK).encode(
    x=alt.value(0), y=alt.value(145), text="name:N")
rsi = alt.layer(
    vgrid(), rsi_band, rsi_axis_layer, mid_line, over_area, under_area,
    line(rsi_df[["i", "v"]], YR, "#7E57C2"), line(pairs(rsi_ma), YR, "#FDD835"),
    sep_rsi, first_text, month_text, year_text,
    label("RSI (14, close)", 8, 16), label("66.17", 92, 16, "#7E57C2"), label("63.33", 129, 16, "#FDD835"),
).properties(width=W, height=H_RSI)

chart = alt.vconcat(price, macd, rsi, spacing=0, bounds="flush", padding=0).configure_view(strokeWidth=0)
chart.save("out.html", embed_options={"renderer": "svg", "actions": False})
